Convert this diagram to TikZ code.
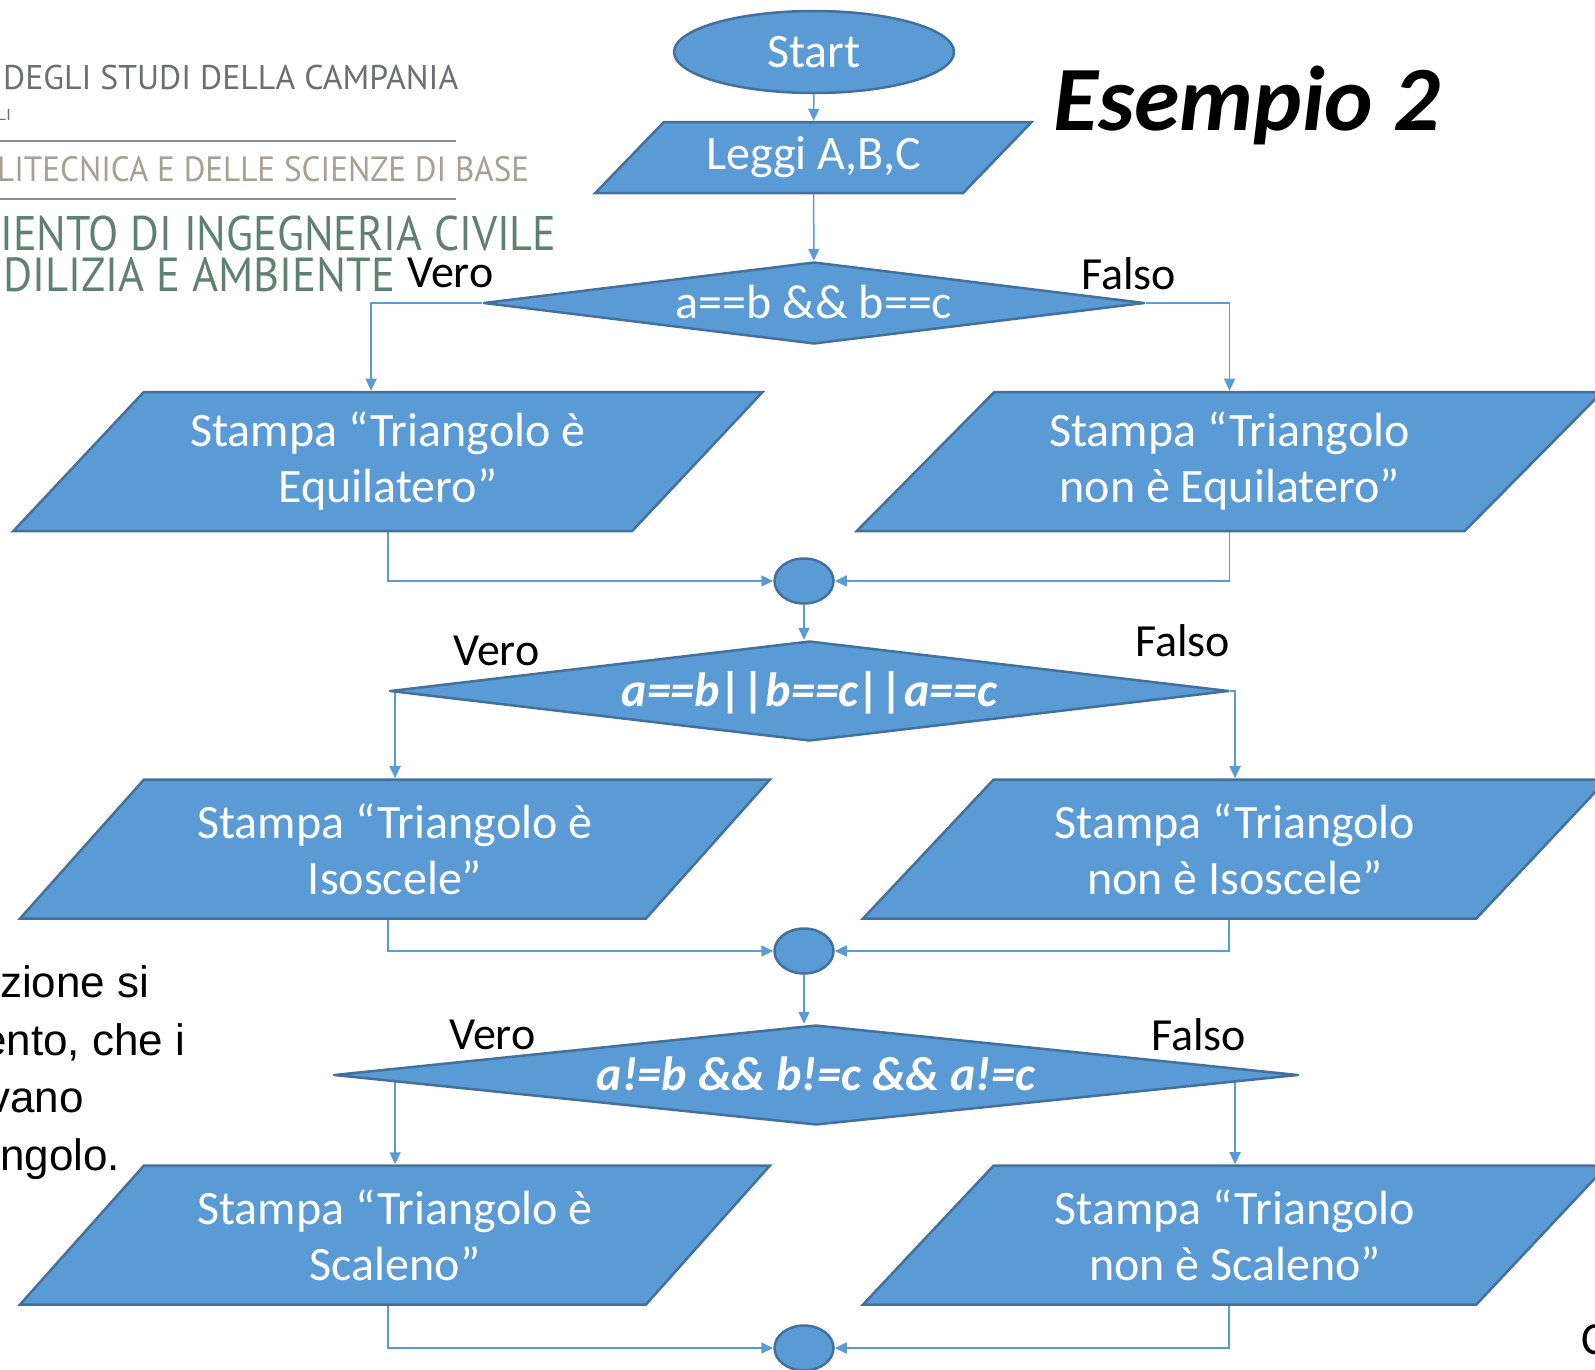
\documentclass[tikz,border=0pt]{standalone}
\usepackage{fontspec}
\setmainfont{Carlito}
\newfontfamily\arialfont{Liberation Sans}
\newfontfamily\logofont{PT Sans}
\usetikzlibrary{shapes.geometric,arrows.meta,backgrounds}
\definecolor{blu}{HTML}{5B9BD5}
\definecolor{bordo}{HTML}{41719C}
\definecolor{logogrigio}{HTML}{6D6E71}
\definecolor{logosabbia}{HTML}{A89F92}
\definecolor{logoverde}{HTML}{5F8174}
\definecolor{lineagrigia}{HTML}{8C8C8C}
\tikzset{
  blocco/.style={draw=bordo, fill=blu, line width=2.5pt, text=white, inner sep=0pt,
    font=\fontsize{48}{56}\selectfont, align=center},
  terminale/.style={blocco, ellipse, minimum width=280pt, minimum height=82pt},
  nodino/.style={blocco, ellipse, minimum width=59pt, minimum height=45pt},
  ingresso/.style={blocco, trapezium, trapezium left angle=40, trapezium right angle=140,
    trapezium stretches=true, minimum width=437pt, minimum height=71pt},
  uscita/.style={blocco, trapezium, trapezium left angle=43, trapezium right angle=137,
    trapezium stretches=true, minimum width=750pt, minimum height=139pt},
  scelta/.style={blocco, diamond, line join=round, text height=34pt, text depth=4pt},
  freccia/.style={draw=blu, line width=1.5pt, -{Triangle[width=11pt,length=12pt]}},
  etichetta/.style={font=\fontsize{46}{55}\selectfont, anchor=base west, inner sep=0pt},
  logo/.style={anchor=base west, inner sep=0pt},
}
\begin{document}
\begin{tikzpicture}[x=1pt, y=-1pt]
  \useasboundingbox (0,0) rectangle (1595,1369);
  \clip (0,0) rectangle (1595,1369);

  % intestazione
  \node[logo, text=logogrigio] (uni) at (3,89.5) {\resizebox{455pt}{24.4pt}{\logofont DEGLI STUDI DELLA CAMPANIA}};
  \node[logo, text=logogrigio] (sede) at (-3,120) {\resizebox{14pt}{11pt}{\logofont LI}};
  \draw[lineagrigia, line width=2pt] (0,141) -- (456,141);
  \node[logo, text=logosabbia] (scuola) at (-3,181) {\resizebox{532pt}{25pt}{\logofont LITECNICA E DELLE SCIENZE DI BASE}};
  \draw[lineagrigia, line width=2pt] (0,199) -- (456,199);
  \node[logo, text=logoverde] (dip1) at (0,250) {\resizebox{556pt}{34.6pt}{\logofont IENTO DI INGEGNERIA CIVILE}};
  \node[logo, text=logoverde] (dip2) at (3,291) {\resizebox{392pt}{34pt}{\logofont DILIZIA E AMBIENTE}};

  \node[font=\fontsize{92}{110}\selectfont\bfseries\itshape, anchor=base west, inner sep=0pt] (titolo) at (1053,130) {Esempio 2};

  % testo a sinistra
  \node[etichetta, font=\arialfont\fontsize{44}{58}\selectfont] (t1) at (0,997) {zione si};
  \node[etichetta, font=\arialfont\fontsize{44}{58}\selectfont] (t2) at (-18,1055) {ento, che i};
  \node[etichetta, font=\arialfont\fontsize{44}{58}\selectfont] (t3) at (-12,1112) {vano};
  \node[etichetta, font=\arialfont\fontsize{44}{58}\selectfont] (t4) at (0,1170) {ngolo.};
  \node[etichetta] (ci) at (1581,1354) {C};

  % diagramma
  \node[terminale] (start) at (814,52) {Start};
  \node[ingresso] (leggi) at (813.5,157.5) {Leggi A,B,C};
  \node[scelta, aspect=8.06, minimum width=661pt, minimum height=82pt] (D1) at (814,303) {a==b \&\& b==c};
  \node[uscita] (L1) at (388,461.5) {Stampa “Triangolo è\\Equilatero”};
  \node[uscita] (R1) at (1229.5,461.5) {Stampa “Triangolo\\non è Equilatero”};
  \node[nodino] (C1) at (804,581) {};

  \node[scelta, aspect=8.39, minimum width=839pt, minimum height=100pt, font=\fontsize{48}{56}\selectfont\bfseries\itshape] (D2) at (809.5,691) {a==b||b==c||a==c};
  \node[uscita] (L2) at (395,849) {Stampa “Triangolo è\\Isoscele”};
  \node[uscita] (R2) at (1235,849) {Stampa “Triangolo\\non è Isoscele”};
  \node[nodino] (C2) at (804,951) {};

  \node[scelta, aspect=9.64, minimum width=964pt, minimum height=100pt, font=\fontsize{48}{56}\selectfont\bfseries\itshape] (D3) at (816,1075) {a!=b \&\& b!=c \&\& a!=c};
  \node[uscita] (L3) at (395,1235) {Stampa “Triangolo è\\Scaleno”};
  \node[uscita] (R3) at (1235,1235) {Stampa “Triangolo\\non è Scaleno”};
  \node[nodino] (C3) at (804,1348) {};

  \node[etichetta] (v1) at (407,287) {Vero};
  \node[etichetta] (f1) at (1081,289) {Falso};
  \node[etichetta] (v2) at (453,665) {Vero};
  \node[etichetta] (f2) at (1135,656) {Falso};
  \node[etichetta] (v3) at (449,1049) {Vero};
  \node[etichetta] (f3) at (1151,1050) {Falso};

  \begin{scope}[on background layer]
    \draw[freccia] (start) -- (leggi);
    \draw[freccia] (leggi) -- (D1);
    \draw[freccia] (D1.west) -| ([xshift=-17pt]L1.north);
    \draw[freccia] (D1.east) -| (R1.north);
    \draw[freccia] (L1.south) |- (C1.west);
    \draw[freccia] (R1.south) |- (C1.east);
    \draw[freccia] (C1.south) -- (C1.south |- D2.north);
    \draw[freccia] (D2.west) -| (L2.north);
    \draw[freccia] (D2.east) -| (R2.north);
    \draw[freccia] ([xshift=-7pt]L2.south) |- (C2.west);
    \draw[freccia] ([xshift=-6pt]R2.south) |- (C2.east);
    \draw[freccia] (C2.south) -- (C2.south |- D3.north);
    \draw[freccia] (D3.west) -| (L3.north);
    \draw[freccia] (D3.east) -| (R3.north);
    \draw[freccia] ([xshift=-7pt]L3.south) |- (C3.west);
    \draw[freccia] ([xshift=-6pt]R3.south) |- (C3.east);
  \end{scope}
\end{tikzpicture}
\end{document}
